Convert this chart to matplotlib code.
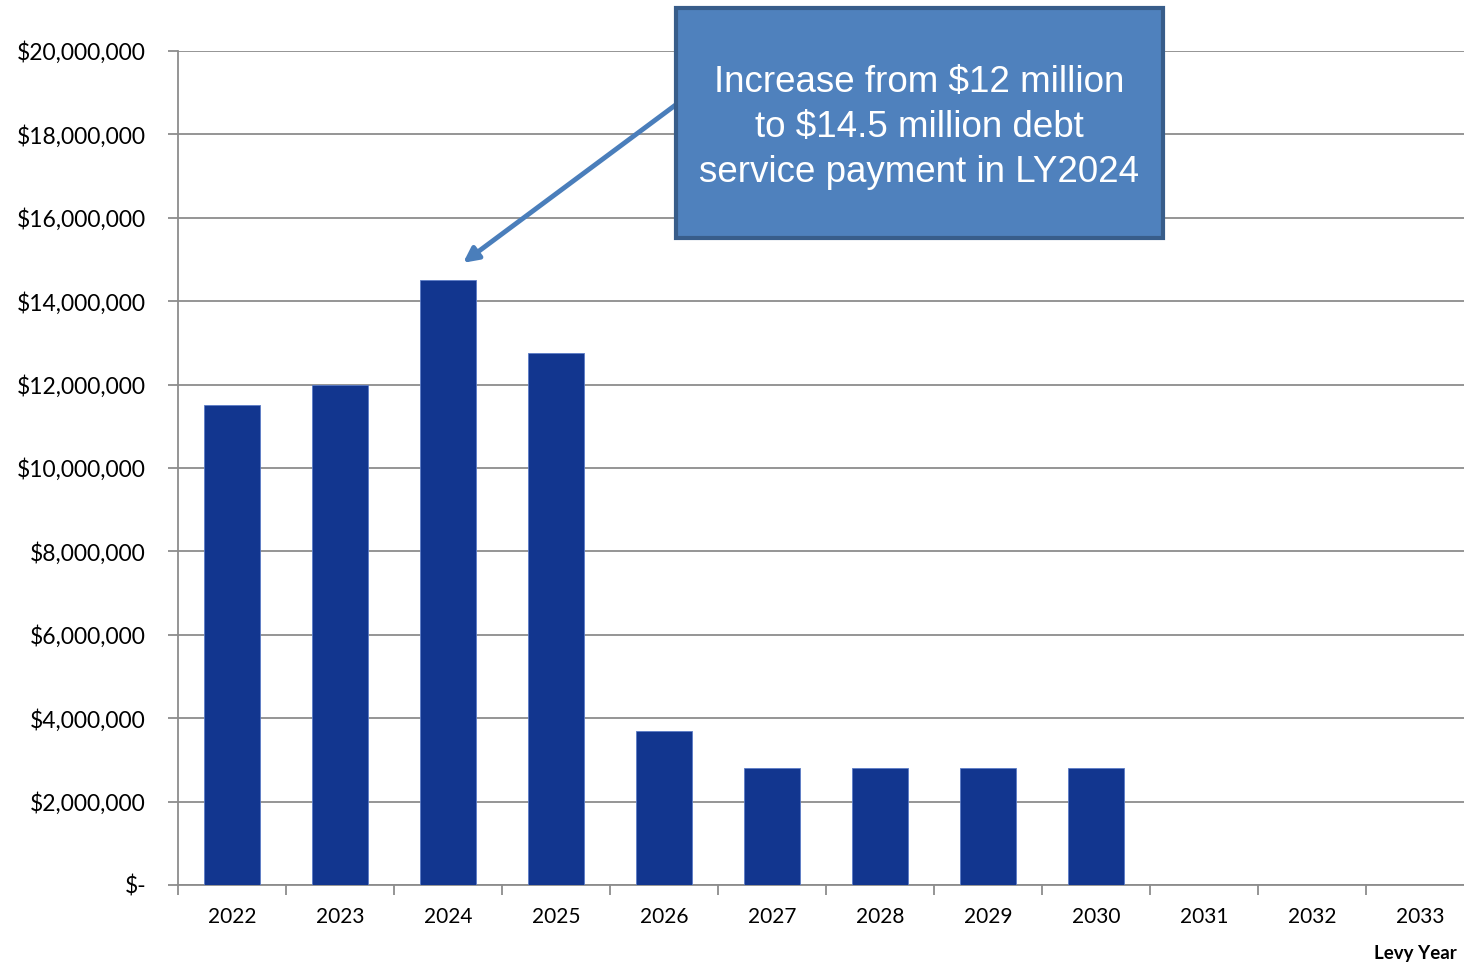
import matplotlib.pyplot as plt
import matplotlib.ticker as mticker
from matplotlib.patches import Rectangle
import numpy as np

# Debt service payment by levy year
years = ['2022', '2023', '2024', '2025', '2026', '2027', '2028', '2029', '2030', '2031', '2032', '2033']
payments = [11500000, 12000000, 14500000, 12750000, 3700000, 2800000, 2800000, 2800000, 2800000, 0, 0, 0]

note = "Increase from \\$12 million\nto \\$14.5 million debt\nservice payment in LY2024"

bar_color = '#12368F'
grid_color = '#8C8C8C'

fig = plt.figure(figsize=(14.64, 9.65), dpi=100)
ax = fig.add_axes([178/1464, 1-885/965, 1296/1464, (885-51)/965])

x = np.arange(len(years))
ax.bar(x, payments, width=0.51, color=bar_color, edgecolor='#5B7BC6', linewidth=0.6, zorder=3)

ax.set_xlim(-0.5, len(years)-0.5)
ax.set_ylim(0, 20000000)
ax.yaxis.set_major_locator(mticker.MultipleLocator(2000000))

def money(v, pos):
    if v == 0:
        return '$-'
    return '${:,.0f}'.format(v)

ax.yaxis.set_major_formatter(mticker.FuncFormatter(money))
ax.grid(axis='y', color=grid_color, linewidth=1.3, zorder=0)

ax.set_xticks(x)
ax.set_xticklabels(years)
ax.set_xticks(np.arange(-0.5, len(years)), minor=True)
ax.tick_params(axis='x', which='major', length=0, pad=16, labelsize=15)
ax.tick_params(axis='x', which='minor', length=7, color=grid_color, width=1.3)
ax.tick_params(axis='y', length=7, color=grid_color, width=1.3, pad=16, labelsize=16.5)
for lbl in ax.get_xticklabels() + ax.get_yticklabels():
    lbl.set_fontfamily('Lato')

for side in ['top', 'right']:
    ax.spines[side].set_visible(False)
for side in ['left', 'bottom']:
    ax.spines[side].set_color(grid_color)
    ax.spines[side].set_linewidth(1.3)

fig.text(1457/1464, 1-953/965, 'Levy Year', ha='right', va='center',
         fontsize=13.5, fontweight='bold', family='Lato')

# callout box with arrow to the 2024 bar
box_x, box_y, box_w, box_h = 4.11, 15520000, 4.51, 5510000
box = Rectangle((box_x, box_y), box_w, box_h, facecolor='#4F81BD',
                edgecolor='#385D8A', linewidth=3, clip_on=False, zorder=5)
ax.add_patch(box)
ax.text(box_x + box_w/2, box_y + box_h/2 - 110000, note, ha='center', va='center',
        color='white', fontsize=26.5, family='Liberation Sans', linespacing=1.36, zorder=6)
ax.annotate('', xy=(2.14, 14920000), xytext=(4.13, 18750000),
            arrowprops=dict(arrowstyle='-|>', color='#4A7EBB', lw=3.5,
                            mutation_scale=22, shrinkA=0, shrinkB=0),
            zorder=4, annotation_clip=False)

fig.savefig('out.png', dpi=100)
